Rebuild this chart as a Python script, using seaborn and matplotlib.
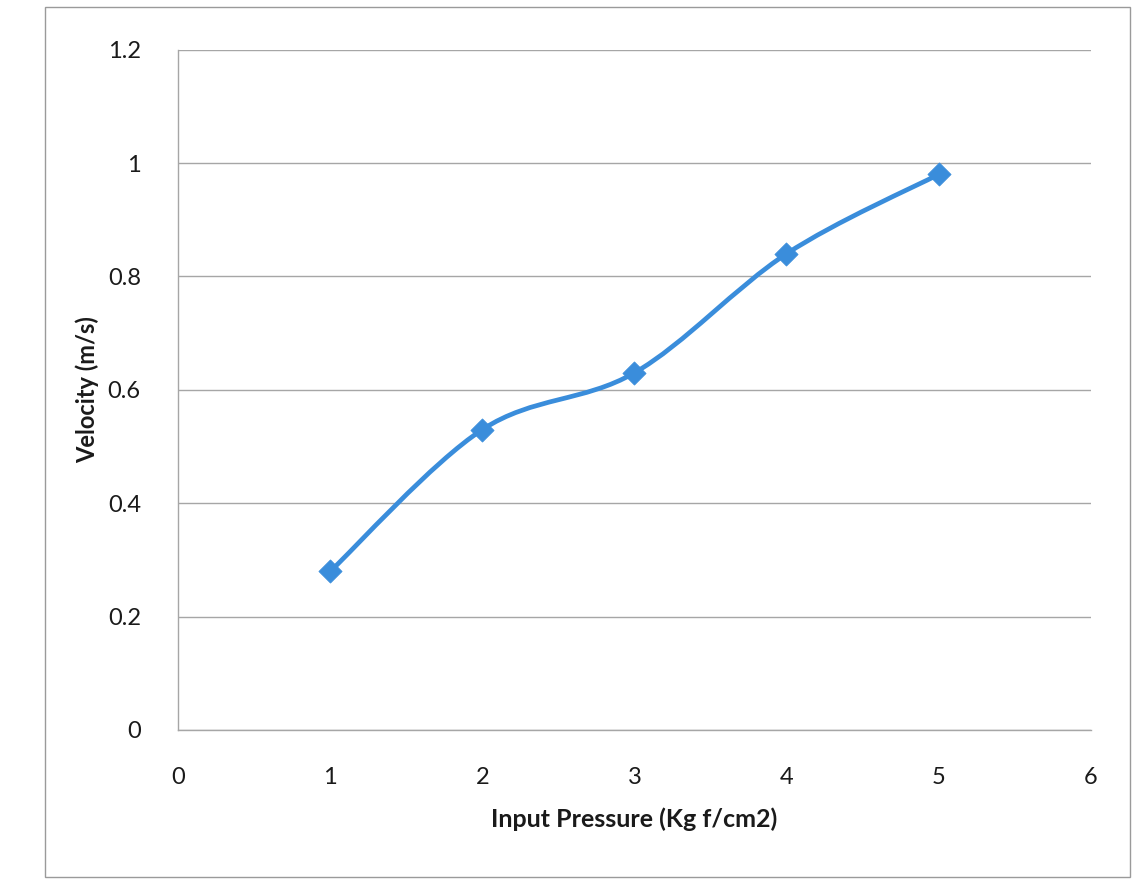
import numpy as np
import pandas as pd
import matplotlib
matplotlib.use("Agg")
import matplotlib.pyplot as plt
from matplotlib.path import Path
from matplotlib.patches import PathPatch, Rectangle
import seaborn as sns

# Measured data
pressure = [1, 2, 3, 4, 5]
velocity = [0.28, 0.53, 0.63, 0.84, 0.98]
x_ticks = [0, 1, 2, 3, 4, 5, 6]
y_ticks = [0, 0.2, 0.4, 0.6, 0.8, 1.0, 1.2]
y_tick_labels = ["0", "0.2", "0.4", "0.6", "0.8", "1", "1.2"]

df = pd.DataFrame({"pressure": pressure, "velocity": velocity})

sns.set_style("white")
plt.rcParams["font.family"] = ["Lato", "DejaVu Sans"]

line_color = "#3a8ddb"
grid_color = "#a6a6a6"
text_color = "#1a1a1a"

fig = plt.figure(figsize=(11.36, 8.88), dpi=100)
ax = fig.add_axes([0.157, 0.178, 0.803, 0.766])

# Smoothed connecting curve (cubic Bezier segments, Catmull-Rom style control points)
pts = np.column_stack([df["pressure"], df["velocity"]]).astype(float)
ext = np.vstack([pts[0], pts, pts[-1]])
verts = [tuple(pts[0])]
codes = [Path.MOVETO]
for i in range(1, len(ext) - 2):
    p0, p1, p2, p3 = ext[i - 1], ext[i], ext[i + 1], ext[i + 2]
    c1 = p1 + (p2 - p0) / 6.0
    c2 = p2 - (p3 - p1) / 6.0
    verts += [tuple(c1), tuple(c2), tuple(p2)]
    codes += [Path.CURVE4] * 3
ax.add_patch(PathPatch(Path(verts, codes), facecolor="none",
                       edgecolor=line_color, lw=3.4, zorder=3,
                       capstyle="round", joinstyle="round"))

sns.scatterplot(data=df, x="pressure", y="velocity", marker="D", s=140,
                color=line_color, edgecolor=line_color, linewidth=0.5,
                zorder=4, ax=ax, legend=False)

ax.set_xlim(0, 6)
ax.set_ylim(0, 1.2)
ax.set_xticks(x_ticks)
ax.set_xticklabels([str(t) for t in x_ticks])
ax.set_yticks(y_ticks)
ax.set_yticklabels(y_tick_labels)
ax.yaxis.grid(True, color=grid_color, lw=1.0)
ax.xaxis.grid(False)
ax.set_axisbelow(True)

for side in ["top", "right"]:
    ax.spines[side].set_visible(False)
for side in ["left", "bottom"]:
    ax.spines[side].set_color(grid_color)
    ax.spines[side].set_linewidth(1.0)

ax.tick_params(axis="both", length=0, labelsize=17, colors=text_color)
ax.tick_params(axis="y", pad=27)
ax.tick_params(axis="x", pad=27)

ax.set_xlabel("Input Pressure (Kg f/cm2)", fontsize=18, fontweight="bold",
              color=text_color, labelpad=14)
ax.set_ylabel("Velocity (m/s)", fontsize=17, fontweight="bold",
              color=text_color, labelpad=6)

# Outer chart frame
fig.patches.append(Rectangle((0.04, 0.012), 0.955, 0.98, transform=fig.transFigure,
                             fill=False, edgecolor="#9a9a9a", lw=1.0))

fig.savefig("out.png", dpi=100, facecolor="white")
